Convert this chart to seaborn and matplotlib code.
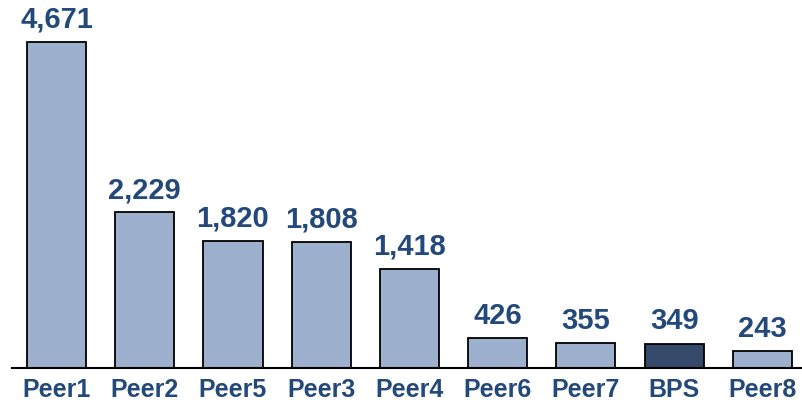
import matplotlib
matplotlib.use("Agg")
import matplotlib.pyplot as plt
import seaborn as sns
import pandas as pd

categories = ["Peer1", "Peer2", "Peer5", "Peer3", "Peer4", "Peer6", "Peer7", "BPS", "Peer8"]
values = [4671, 2229, 1820, 1808, 1418, 426, 355, 349, 243]
highlight = "BPS"

light = "#9DB0CD"
dark = "#354A6A"
text_color = "#23497A"

sns.set_theme(style="white")
plt.rcParams["font.family"] = ["Liberation Sans Narrow", "Liberation Sans", "DejaVu Sans"]

df = pd.DataFrame({"name": categories, "value": values})
palette = {c: (dark if c == highlight else light) for c in categories}

fig = plt.figure(figsize=(8.02, 4.05), dpi=100)
ax = fig.add_axes([12 / 802, 37 / 405, 790 / 802, 368 / 405])

sns.barplot(data=df, x="name", y="value", hue="name", palette=palette,
            order=categories, width=0.67, edgecolor="black", linewidth=1.3,
            saturation=1, legend=False, ax=ax)

for i, v in enumerate(values):
    ax.text(i, v + 120, f"{v:,}", ha="center", va="bottom",
            fontsize=21, fontweight="bold", color=text_color)

ax.set_xlim(-0.505, 8.45)
ax.set_ylim(0, 5273)
ax.set_yticks([])
ax.set_xlabel("")
ax.set_ylabel("")
for s in ["top", "right", "left"]:
    ax.spines[s].set_visible(False)
ax.spines["bottom"].set_color("black")
ax.spines["bottom"].set_linewidth(1.5)
ax.tick_params(axis="x", length=0, pad=7, labelsize=18, labelcolor=text_color)
for lab in ax.get_xticklabels():
    lab.set_fontweight("bold")

fig.savefig("out.png", dpi=100)
